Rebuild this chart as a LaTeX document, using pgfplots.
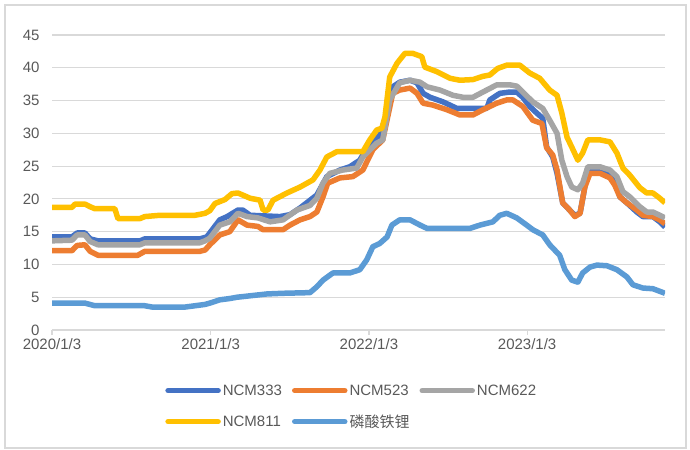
\documentclass[border=0pt]{standalone}
\usepackage{fontspec}
\setmainfont{Liberation Sans}
\newfontfamily\cjk{Noto Sans CJK SC}
\usepackage{pgfplots}
\pgfplotsset{compat=1.18}
\definecolor{c333}{HTML}{4472C4}
\definecolor{c523}{HTML}{ED7D31}
\definecolor{c622}{HTML}{A5A5A5}
\definecolor{c811}{HTML}{FFC000}
\definecolor{clfp}{HTML}{5B9BD5}
\definecolor{gridc}{HTML}{D9D9D9}
\definecolor{txt}{HTML}{595959}
\begin{document}
\begin{tikzpicture}
\useasboundingbox (0bp,0bp) rectangle (690bp,450bp);
\draw[gridc, line width=1.2bp] (5bp,2bp) rectangle (686bp,445bp);
\begin{axis}[
  at={(52bp,120bp)}, anchor=south west,
  scale only axis, width=613bp, height=295bp,
  xmin=0, xmax=1414, ymin=0, ymax=45,
  axis x line*=bottom, axis y line*=left,
  y axis line style={draw=none},
  x axis line style={gridc, line width=1.2bp},
  ytick={0,5,...,45},
  ymajorgrids, grid style={gridc, line width=1.2bp},
  xtick={0,366,731,1096},
  xticklabels={2020/1/3,2021/1/3,2022/1/3,2023/1/3},
  tick align=outside, major tick length=5bp,
  xtick style={gridc, line width=1.2bp},
  ytick style={draw=none},
  ticklabel style={font=\fontsize{15bp}{18bp}\selectfont, text=txt},
  yticklabel style={xshift=-4bp},
  /pgf/number format/assume math mode=true,
  legend columns=3,
  legend cell align=left,
  legend image code/.code={\draw[#1, line width=5.5bp, line cap=round] (0bp,0bp) -- (50bp,0bp);},
  legend style={at={(0.489,-0.26)}, anchor=center, draw=none, fill=none,
    font=\fontsize{15bp}{18bp}\selectfont, text=txt, row sep=14bp,
    /tikz/every even column/.append style={column sep=8bp}},
  every axis plot/.append style={line width=5.5bp, line join=round, no markers},
]
\addplot[c333] coordinates {
(0,14.2) (46,14.2) (58,14.8) (76,14.8) (88,13.9) (106,13.6) (203,13.6) (214,13.9) (341,13.9) (357,14.2) (364,14.8) (387,16.8) (404,17.3) (429,18.3) (440,18.3) (457,17.5) (526,17.3) (549,17.6) (572,18.6) (611,20.6) (634,23.4) (664,24.4) (687,24.9) (710,25.9) (733,28.5) (756,29.7) (773,33.1) (786,37.1) (802,37.8) (826,38.1) (842,37.7) (856,36.1) (872,35.5) (902,34.8) (934,33.8) (1003,33.8) (1010,35.1) (1033,36.1) (1056,36.3) (1072,36.3) (1086,35.5) (1102,34.1) (1118,33.1) (1132,32.3) (1141,27.9) (1155,26.4) (1165,23.9) (1178,19.4) (1194,18.3) (1206,17.5) (1218,17.8) (1229,21.8) (1236,24.7) (1264,24.7) (1287,23.9) (1298,22.9) (1310,20.3) (1326,19.4) (1349,18.0) (1363,17.3) (1386,17.3) (1402,16.5) (1414,15.7)
};
\addlegendentry{NCM333}
\addplot[c523] coordinates {
(0,12.1) (46,12.1) (58,12.9) (76,13.0) (88,12.0) (106,11.4) (198,11.4) (214,12.0) (341,12.0) (353,12.2) (364,13.0) (387,14.5) (410,15.0) (429,16.8) (450,16.0) (475,15.8) (487,15.3) (533,15.3) (549,16.0) (572,16.8) (595,17.3) (611,18.0) (625,20.3) (636,22.4) (664,23.2) (694,23.4) (717,24.4) (740,27.5) (763,29.0) (786,36.1) (802,36.6) (826,36.9) (842,36.1) (856,34.6) (879,34.3) (911,33.6) (941,32.8) (971,32.8) (994,33.6) (1026,34.6) (1049,35.1) (1063,35.1) (1086,34.1) (1109,32.0) (1130,31.5) (1141,27.8) (1155,26.7) (1165,24.4) (1178,19.4) (1194,18.3) (1206,17.3) (1218,17.8) (1229,21.8) (1241,23.9) (1264,23.9) (1287,23.2) (1298,22.1) (1310,20.3) (1326,19.4) (1349,18.3) (1363,17.5) (1386,17.3) (1402,16.8) (1414,16.2)
};
\addlegendentry{NCM523}
\addplot[c622] coordinates {
(0,13.6) (46,13.7) (58,14.5) (76,14.5) (88,13.5) (106,13.0) (203,13.0) (214,13.3) (341,13.3) (353,13.6) (364,14.0) (387,16.0) (410,16.5) (429,17.8) (450,17.3) (475,17.1) (503,16.5) (533,16.8) (565,18.3) (595,19.0) (611,20.1) (625,22.4) (641,23.9) (671,24.4) (703,24.7) (717,26.4) (749,28.5) (763,29.0) (779,35.1) (802,37.7) (826,38.1) (849,37.8) (865,37.1) (895,36.6) (925,35.8) (948,35.5) (971,35.5) (994,36.3) (1026,37.4) (1056,37.4) (1072,37.2) (1086,36.3) (1109,34.8) (1132,33.8) (1148,32.0) (1165,30.0) (1176,25.9) (1188,23.4) (1199,21.8) (1213,21.4) (1224,22.4) (1236,24.9) (1264,24.9) (1287,24.4) (1303,23.4) (1317,21.1) (1333,20.3) (1356,18.8) (1372,18.0) (1386,18.0) (1402,17.5) (1414,17.1)
};
\addlegendentry{NCM622}
\addplot[c811] coordinates {
(0,18.7) (46,18.7) (53,19.2) (76,19.2) (88,18.8) (99,18.5) (145,18.5) (152,17.0) (203,17.0) (214,17.3) (249,17.5) (330,17.5) (353,17.8) (364,18.2) (376,19.3) (399,19.9) (415,20.8) (429,20.9) (457,20.1) (480,19.8) (487,18.3) (498,18.3) (510,19.8) (542,20.9) (572,21.8) (602,22.9) (618,24.4) (634,26.4) (657,27.2) (717,27.2) (733,29.0) (749,30.5) (761,30.8) (768,32.5) (779,38.6) (796,40.7) (814,42.2) (832,42.2) (853,41.7) (860,40.1) (888,39.4) (918,38.4) (941,38.1) (971,38.2) (994,38.7) (1010,38.9) (1028,39.9) (1049,40.4) (1079,40.4) (1102,39.2) (1125,38.4) (1148,36.6) (1165,35.8) (1176,33.1) (1188,29.4) (1199,27.9) (1213,25.9) (1224,27.0) (1236,29.0) (1264,29.0) (1287,28.7) (1303,27.0) (1317,24.7) (1333,23.6) (1356,21.7) (1372,20.9) (1386,20.9) (1402,20.1) (1414,19.4)
};
\addlegendentry{NCM811}
\addplot[clfp] coordinates {
(0,4.1) (76,4.1) (99,3.7) (214,3.7) (231,3.5) (307,3.5) (330,3.7) (353,3.9) (364,4.1) (387,4.6) (410,4.8) (427,5.0) (496,5.5) (533,5.6) (595,5.7) (611,6.6) (625,7.6) (648,8.7) (687,8.7) (710,9.2) (726,10.7) (740,12.7) (756,13.2) (773,14.2) (784,16.0) (802,16.8) (826,16.8) (849,16.0) (865,15.5) (918,15.5) (964,15.5) (987,16.0) (1017,16.5) (1033,17.5) (1049,17.8) (1072,17.1) (1095,16.0) (1109,15.3) (1132,14.5) (1148,13.0) (1171,11.4) (1183,9.2) (1199,7.6) (1213,7.3) (1224,8.7) (1241,9.6) (1257,9.9) (1280,9.8) (1303,9.2) (1326,8.1) (1340,6.9) (1363,6.4) (1386,6.3) (1414,5.6)
};
\addlegendentry{{\cjk 磷酸铁锂}}
\end{axis}
\end{tikzpicture}
\end{document}
